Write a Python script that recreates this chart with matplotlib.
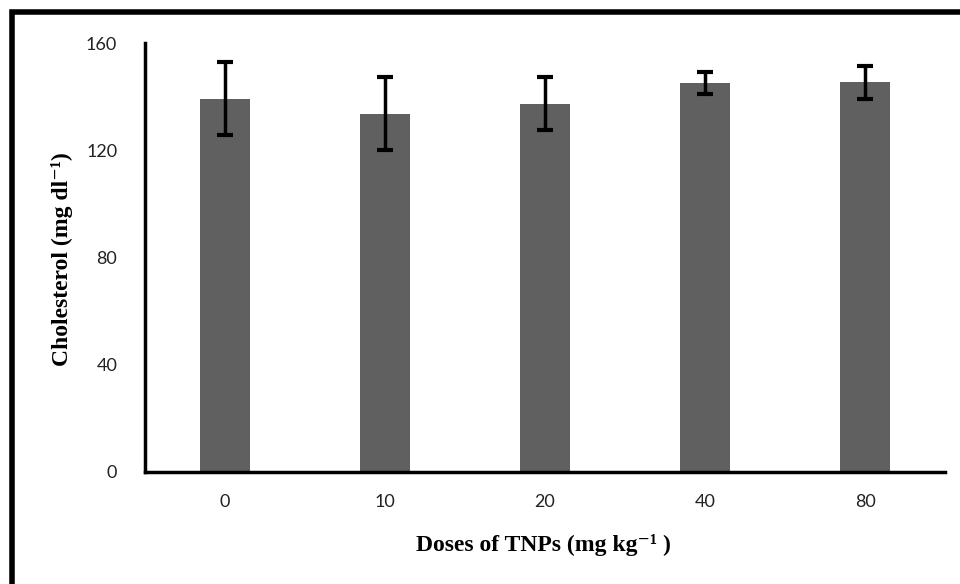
from matplotlib import pyplot as plt
from matplotlib.lines import Line2D
import numpy as np

doses = ['0', '10', '20', '40', '80']
cholesterol = [139.2, 133.6, 137.4, 145.0, 145.3]
errors = [13.6, 13.6, 10.0, 4.2, 6.3]
y_ticks = [0, 40, 80, 120, 160]

W, H = 960, 584
fig = plt.figure(figsize=(W / 100, H / 100), dpi=100)
ax = fig.add_axes([145 / W, 1 - 472 / H, 800 / W, 429 / H])

index = np.arange(len(doses))
ax.bar(index, cholesterol, 0.31, color='#606060', zorder=2)
ax.errorbar(index, cholesterol, yerr=errors, fmt='none', ecolor='black',
            elinewidth=2.5, capsize=6, capthick=3, zorder=3)

ax.set_xlim(-0.5, 4.5)
ax.set_ylim(0, 160)
ax.set_xticks(index)
ax.set_xticklabels(doses)
ax.set_yticks(y_ticks)
ax.tick_params(axis='both', length=0, labelsize=13)
ax.tick_params(axis='x', pad=16)
ax.tick_params(axis='y', pad=20)
for lab in ax.get_xticklabels() + ax.get_yticklabels():
    lab.set_family('Lato')
    lab.set_color('#222222')

for side in ['top', 'right']:
    ax.spines[side].set_visible(False)
for side in ['left', 'bottom']:
    ax.spines[side].set_linewidth(2.5)

serif = ['Liberation Serif', 'DejaVu Serif']
fig.text(543 / W, 1 - 545 / H, 'Doses of TNPs (mg kg\u207b\u00b9 )',
         ha='center', va='center', fontsize=17, fontweight='bold',
         family=serif)
fig.text(62 / W, 1 - 259 / H, 'Cholesterol (mg dl\u207b\u00b9)',
         ha='center', va='center', rotation=90, fontsize=17,
         fontweight='bold', family=serif)

# outer frame (left and top only, as in the source image)
fig.add_artist(Line2D([12 / W, 12 / W, 1], [0, 1 - 12 / H, 1 - 12 / H],
                      transform=fig.transFigure, color='black', lw=4,
                      solid_joinstyle='miter'))

fig.savefig('out.png', dpi=100)
